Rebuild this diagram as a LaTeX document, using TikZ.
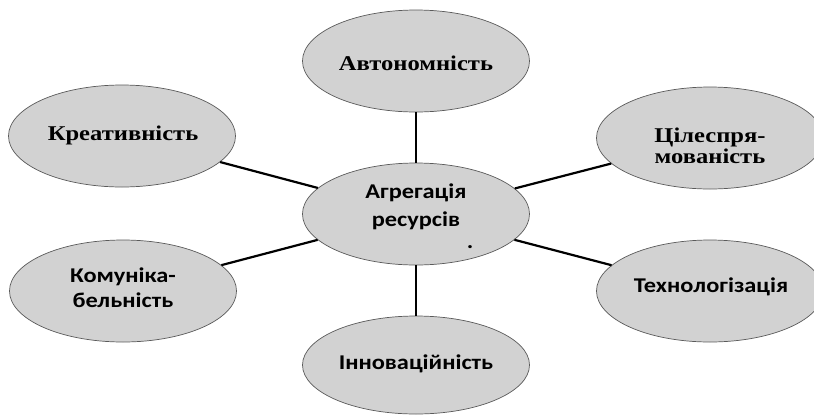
\documentclass[tikz,border=0pt]{standalone}
\usepackage{fontspec}
\setmainfont[FakeStretch=1.17]{Liberation Serif}
\newfontfamily\calib[FakeStretch=1.16]{Carlito}
\usetikzlibrary{shapes.geometric}
\definecolor{ovalgray}{RGB}{210,210,210}
\definecolor{ovalline}{RGB}{90,90,90}
\begin{document}
\begin{tikzpicture}[x=1pt,y=-1pt,
  oval/.style={ellipse, draw=ovalline, line width=0.7pt, fill=ovalgray,
    minimum width=227pt, minimum height=102pt, inner sep=0pt},
  link/.style={line width=2.2pt, black},
  serif/.style={font=\bfseries\fontsize{21}{21}\selectfont, align=center, inner sep=0pt},
  sans/.style={font=\calib\bfseries\fontsize{21}{25}\selectfont, align=center, inner sep=0pt}]
\useasboundingbox (0,0) rectangle (814,416);
% ovals
\node[oval] (aut) at (416,61) {};
\node[oval] (kre) at (122,136) {};
\node[oval] (cil) at (710,138) {};
\node[oval] (agr) at (416,214) {};
\node[oval] (kom) at (123,291) {};
\node[oval] (tex) at (710,291) {};
\node[oval, minimum height=98pt] (inn) at (416,365) {};
% connectors
\draw[link] (aut) -- (agr);
\draw[link] (kre) -- (agr);
\draw[link] (cil) -- (agr);
\draw[link] (kom) -- (agr);
\draw[link] (tex) -- (agr);
\draw[link] (inn) -- (agr);
% texts
\node[serif] (autt) at (416,63) {Автономність};
\node[serif] (kret) at (123,135) {Креативність};
\node[serif] (cilt) at (710,146) {Цілеспря-\\мованість};
\node[sans, font=\calib\bfseries\fontsize{21}{28}\selectfont] (agrt) at (416,207) {Агрегація\\ресурсів};
\node[sans] (dot) at (470,247) {.};
\node[sans] (komt) at (123,288) {Комуніка-\\бельність};
\node[sans] (text) at (711,287) {Технологізація};
\node[sans] (innt) at (416,364) {Інноваційність};
\end{tikzpicture}
\end{document}
